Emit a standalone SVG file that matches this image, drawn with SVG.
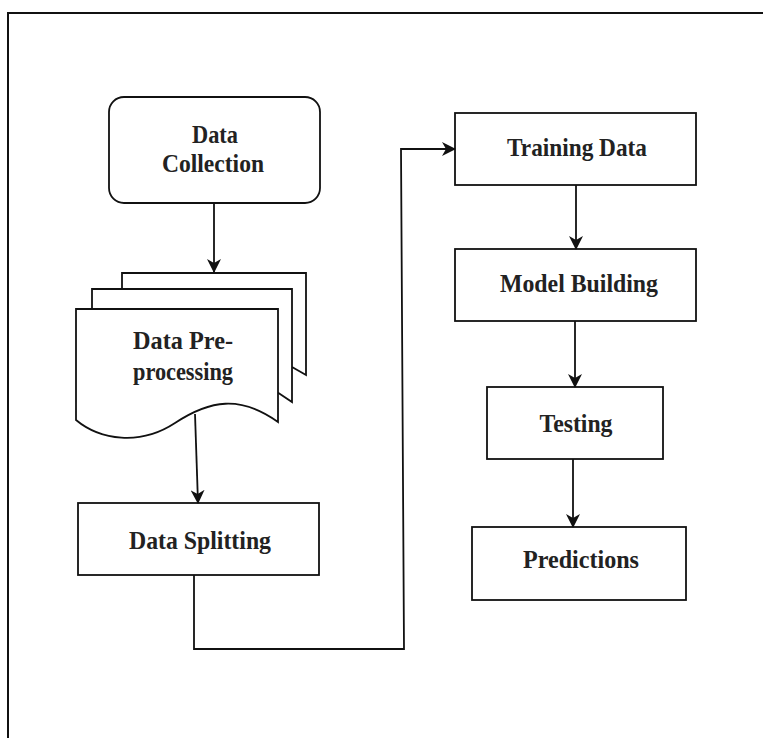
<svg xmlns="http://www.w3.org/2000/svg" width="763" height="738" viewBox="0 0 763 738">
<style>
.shape{fill:#fff;stroke:#111;stroke-width:1.8}
.edge{fill:none;stroke:#111;stroke-width:1.8}
.lbl{font-family:"Liberation Serif","Times New Roman",serif;font-weight:bold;font-size:26px;fill:#222;text-anchor:middle}
</style>
<defs>
<marker id="arr" viewBox="0 0 14 14" refX="13" refY="7" markerWidth="14" markerHeight="14" markerUnits="userSpaceOnUse" orient="auto">
<path d="M0,0 L14,7 L0,14 L4,7 z" fill="#111"/>
</marker>
</defs>
<rect width="763" height="738" fill="#fff"/>
<path d="M8,738 V13 H763" fill="none" stroke="#111" stroke-width="2"/>
<g id="data-collection">
<rect class="shape" x="109" y="97" width="211" height="106" rx="15"/>
<text class="lbl" x="215" y="143" textLength="46" lengthAdjust="spacingAndGlyphs">Data</text>
<text class="lbl" x="213" y="172" textLength="102" lengthAdjust="spacingAndGlyphs">Collection</text>
</g>
<g id="data-preprocessing">
<path class="shape" d="M122,289 V273 H306 V375 L292,367"/>
<path class="shape" d="M92,309 V289 H292 V402 L277,392"/>
<path class="shape" d="M76,309 H278 V422 C240,395 210,400 175,423 C140,446 100,440 76,420 Z"/>
<text class="lbl" x="183" y="349" textLength="100" lengthAdjust="spacingAndGlyphs">Data Pre-</text>
<text class="lbl" x="183" y="380" textLength="100" lengthAdjust="spacingAndGlyphs">processing</text>
</g>
<g id="data-splitting">
<rect class="shape" x="78" y="503" width="241" height="72"/>
<text class="lbl" x="200" y="549" textLength="142" lengthAdjust="spacingAndGlyphs">Data Splitting</text>
</g>
<g id="training-data">
<rect class="shape" x="455" y="113" width="241" height="72"/>
<text class="lbl" x="577" y="156" textLength="140" lengthAdjust="spacingAndGlyphs">Training Data</text>
</g>
<g id="model-building">
<rect class="shape" x="455" y="249" width="241" height="72"/>
<text class="lbl" x="579" y="292" textLength="158" lengthAdjust="spacingAndGlyphs">Model Building</text>
</g>
<g id="testing">
<rect class="shape" x="487" y="387" width="176" height="72"/>
<text class="lbl" x="576" y="432" textLength="73" lengthAdjust="spacingAndGlyphs">Testing</text>
</g>
<g id="predictions">
<rect class="shape" x="472" y="527" width="214" height="73"/>
<text class="lbl" x="581" y="568" textLength="116" lengthAdjust="spacingAndGlyphs">Predictions</text>
</g>
<g id="connectors">
<path class="edge" d="M214,203 V272" marker-end="url(#arr)"/>
<path class="edge" d="M195,414 L198,503" marker-end="url(#arr)"/>
<path class="edge" d="M194,575 V649 H404 L401,149 H455" marker-end="url(#arr)"/>
<path class="edge" d="M576,185 V249" marker-end="url(#arr)"/>
<path class="edge" d="M575,321 V387" marker-end="url(#arr)"/>
<path class="edge" d="M573,459 V527" marker-end="url(#arr)"/>
</g>
</svg>
